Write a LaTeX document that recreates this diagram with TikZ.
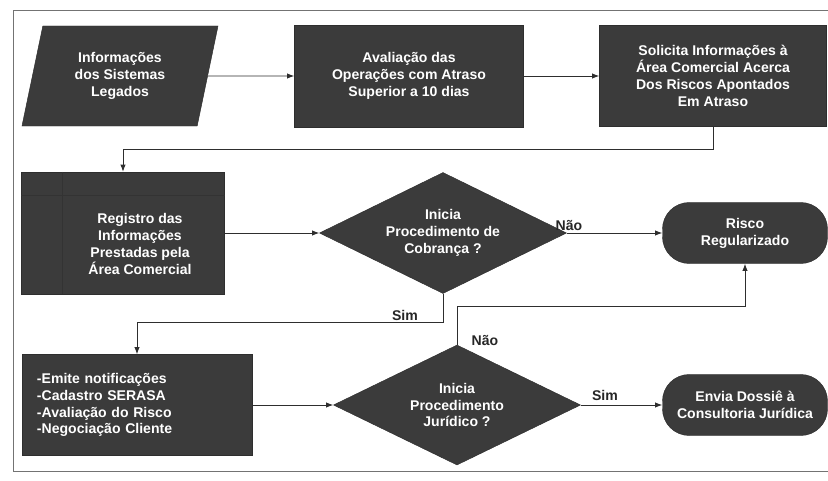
\documentclass[tikz,border=0pt]{standalone}
\usepackage{fontspec}
\setmainfont{Liberation Sans}
\usetikzlibrary{shapes.geometric,arrows.meta}
\definecolor{fundo}{HTML}{3B3B3B}
\definecolor{linha}{HTML}{2E2E2E}

\begin{document}
\begin{tikzpicture}[x=0.03cm, y=-0.03cm,
	font=\fontsize{12}{14.4}\selectfont\bfseries,
	caixa/.style={draw=linha, fill=fundo, text=white, align=center, inner sep=2pt},
	decisao/.style={caixa, diamond, aspect=2, inner sep=0pt, minimum width=7.41cm, minimum height=3.63cm},
	terminal/.style={caixa, rounded corners=0.8cm, minimum width=4.95cm, minimum height=1.83cm},
	seta/.style={draw=linha, line width=0.8pt, -{Latex[length=6pt,width=4.5pt]}},
	rotulo/.style={text=black!85}]
	\useasboundingbox (0,0) rectangle (828,481);
	% moldura
	\draw [black!55, line width=0.8pt] (828,10) -- (13,10) -- (13,471) -- (828,471);

	% linha de cima
	\node [caixa, trapezium, trapezium left angle=68, trapezium right angle=112,
		trapezium stretches body, minimum width=5.88cm, minimum height=3cm] (legado) at (120,76)
		{Informações\\dos Sistemas\\Legados};
	\node [caixa, minimum width=6.87cm, minimum height=3.06cm] (avalia) at (409,76)
		{Avaliação das\\Operações com Atraso\\Superior a 10 dias};
	\node [caixa, minimum width=6.81cm, minimum height=3.03cm] (solicita) at (713,76)
		{Solicita Informações à\\Área Comercial Acerca\\Dos Riscos Apontados\\Em Atraso};

	% linha do meio
	\node [caixa, minimum width=6.09cm, minimum height=3.66cm] (registro) at (123,233) {};
	\draw [black!80, line width=0.6pt] ([yshift=-0.72cm]registro.north west) -- ([yshift=-0.72cm]registro.north east);
	\draw [black!80, line width=0.6pt] ([xshift=1.23cm]registro.north west) -- ([xshift=1.23cm]registro.south west);
	\node [text=white, align=center] (registrotxt) at (140,244)
		{Registro das\\Informações\\Prestadas pela\\Área Comercial};
	\node [decisao] (cobranca) at (443,233) {Inicia\\Procedimento de\\Cobrança ?};
	\node [terminal] (regular) at (745,233) {Risco\\Regularizado};

	% linha de baixo
	\node [caixa, align=left, text width=6cm, inner xsep=0.45cm, minimum height=3.03cm] (acoes) at (137,405)
		{-Emite notificações\\-Cadastro SERASA\\-Avaliação do Risco\\-Negociação Cliente};
	\node [decisao, minimum height=3.6cm] (juridico) at (457,405) {Inicia\\Procedimento\\Jurídico ?};
	\node [terminal] (consultoria) at (745,405) {Envia Dossiê à\\Consultoria Jurídica};

	% conectores
	\draw [seta] (legado.east) -- (avalia.west);
	\draw [seta] (avalia.east) -- (solicita.west);
	\draw [seta] (solicita.south) -- ++(0,23) -| (registro.north);
	\draw [seta] (registro.east) -- (cobranca.west);
	\draw [seta] (cobranca.east) -- (regular.west);
	\draw [seta] (cobranca.south) -- ++(0,29) -| (acoes.north);
	\draw [seta] (acoes.east) -- (juridico.west);
	\draw [seta] (juridico.north) -- ++(0,-38) -| (regular.south);
	\draw [seta] (juridico.east) -- (consultoria.west);

	% rotulos
	\node [rotulo] (nao1) at (569,226) {Não};
	\node [rotulo] (sim1) at (405,315) {Sim};
	\node [rotulo] (nao2) at (485,341) {Não};
	\node [rotulo] (sim2) at (605,395) {Sim};
\end{tikzpicture}
\end{document}
